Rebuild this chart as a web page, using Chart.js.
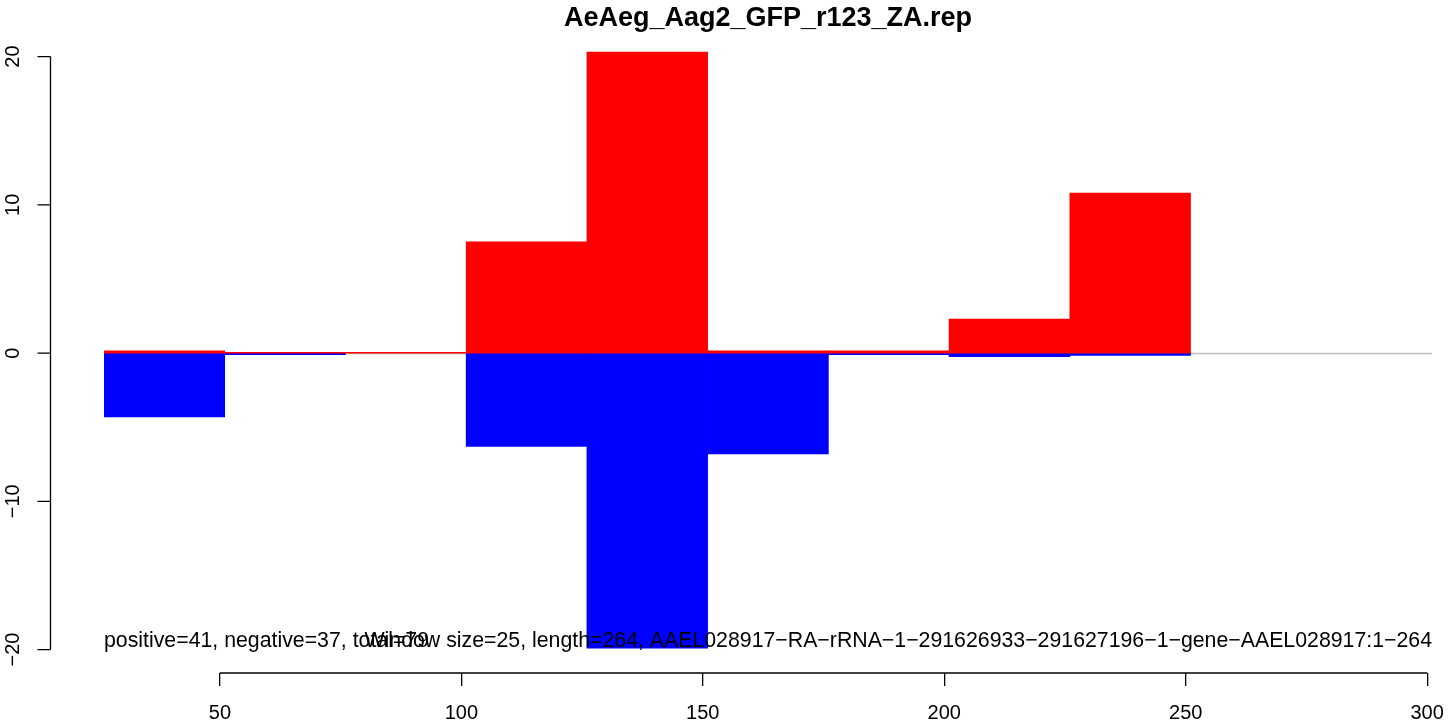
<!DOCTYPE html>
<html>
<head>
<meta charset="utf-8">
<script src="https://cdn.jsdelivr.net/npm/chart.js@4/dist/chart.umd.min.js"></script>
<style>
  html, body { margin: 0; padding: 0; background: #fff; }
  canvas { display: block; }
</style>
</head>
<body>
<canvas id="c" width="1449" height="724"></canvas>
<script>
// Window starts (size 25) along the sequence
const windowStarts = [26, 51, 76, 101, 126, 151, 176, 201, 226, 251, 276];
// Positive-strand and negative-strand counts per window (null = no reads)
const positiveCounts = [0.15, 0.05, 0.05, 7.5, 20.3, 0.15, 0.15, 2.3, 10.8, null, null];
const negativeCounts = [-4.3, -0.1, null, -6.3, -19.9, -6.8, -0.1, -0.25, -0.15, null, null];
// Axis tick values
const xTicks = [50, 100, 150, 200, 250, 300];
const yTicks = [-20, -10, 0, 10, 20];

const titleText = 'AeAeg_Aag2_GFP_r123_ZA.rep';
const summaryText = 'positive=41, negative=37, total=79';
const infoText = 'Window size=25, length=264, AAEL028917\u2212RA\u2212rRNA\u22121\u2212291626933\u2212291627196\u22121\u2212gene\u2212AAEL028917:1\u2212264';

const FONT = '"Liberation Sans", Arial, Helvetica, sans-serif';
const TICK_LEN = 13;

const baseAxes = {
  id: 'baseAxes',
  beforeDatasetsDraw(chart) {
    const ctx = chart.ctx, ca = chart.chartArea, y = chart.scales.y;
    const y0 = Math.round(y.getPixelForValue(0)) + 0.5;
    ctx.save();
    ctx.strokeStyle = '#bebebe';
    ctx.lineWidth = 1.5;
    ctx.beginPath();
    ctx.moveTo(ca.left, y0);
    ctx.lineTo(ca.right, y0);
    ctx.stroke();
    ctx.restore();
  },
  afterDatasetsDraw(chart) {
    const ctx = chart.ctx, ca = chart.chartArea;
    ctx.save();
    ctx.fillStyle = '#000';
    ctx.font = '21.3px ' + FONT;
    ctx.textBaseline = 'middle';
    ctx.textAlign = 'left';
    ctx.fillText(summaryText, ca.left, 641);
    ctx.textAlign = 'right';
    ctx.fillText(infoText, ca.right, 641);
    ctx.restore();
  },
  afterDraw(chart) {
    const ctx = chart.ctx, ca = chart.chartArea;
    const x2 = chart.scales.x2, y = chart.scales.y;
    ctx.save();
    ctx.strokeStyle = '#000';
    ctx.lineWidth = 1.3;
    // bottom axis line spanning the tick range
    ctx.beginPath();
    ctx.moveTo(x2.getPixelForValue(xTicks[0]), ca.bottom);
    ctx.lineTo(x2.getPixelForValue(xTicks[xTicks.length - 1]), ca.bottom);
    ctx.stroke();
    // left axis
    const ax = 50.5;
    const yTop = y.getPixelForValue(yTicks[yTicks.length - 1]);
    const yBot = y.getPixelForValue(yTicks[0]);
    ctx.beginPath();
    ctx.moveTo(ax, yTop);
    ctx.lineTo(ax, yBot);
    yTicks.forEach(v => {
      const py = y.getPixelForValue(v);
      ctx.moveTo(ax, py);
      ctx.lineTo(ax - TICK_LEN, py);
    });
    ctx.stroke();
    ctx.fillStyle = '#000';
    ctx.font = '20px ' + FONT;
    ctx.textAlign = 'center';
    ctx.textBaseline = 'middle';
    yTicks.forEach(v => {
      const py = y.getPixelForValue(v);
      ctx.save();
      ctx.translate(13, py);
      ctx.rotate(-Math.PI / 2);
      ctx.fillText(String(v).replace('-', '\u2212'), 0, 0);
      ctx.restore();
    });
    ctx.restore();
  }
};

new Chart(document.getElementById('c'), {
  type: 'bar',
  data: {
    labels: windowStarts.map(String),
    datasets: [
      { label: 'positive', data: positiveCounts, backgroundColor: '#ff0000', borderWidth: 0,
        barPercentage: 1, categoryPercentage: 1 },
      { label: 'negative', data: negativeCounts, backgroundColor: '#0000ff', borderWidth: 0,
        barPercentage: 1, categoryPercentage: 1 }
    ]
  },
  options: {
    responsive: false,
    animation: false,
    devicePixelRatio: 1,
    layout: { padding: { left: 104, right: 17, top: 0, bottom: 0 } },
    plugins: {
      legend: { display: false },
      tooltip: { enabled: false },
      title: {
        display: true,
        text: titleText,
        color: '#000',
        font: { family: FONT, size: 27, weight: 'bold', lineHeight: 1.08 },
        padding: { top: 4, bottom: 0 }
      }
    },
    scales: {
      x: { type: 'category', stacked: true, display: false, offset: true },
      x2: {
        type: 'linear', position: 'bottom', min: 26, max: 301, offset: false,
        afterBuildTicks(scale) { scale.ticks = xTicks.map(v => ({ value: v })); },
        afterFit(scale) {
          scale.height = 51;
          scale.paddingLeft = 0;
          scale.paddingRight = 0;
        },
        border: { display: false },
        grid: { display: true, offset: false, drawOnChartArea: false, drawTicks: true, tickLength: TICK_LEN,
                color: '#000', lineWidth: 1.3 },
        ticks: { color: '#000', padding: 15, maxRotation: 0, autoSkip: false,
                 font: { family: FONT, size: 20 } }
      },
      y: { stacked: true, display: false, min: -21.58, max: 21.58 }
    }
  },
  plugins: [baseAxes]
});
</script>
</body>
</html>
